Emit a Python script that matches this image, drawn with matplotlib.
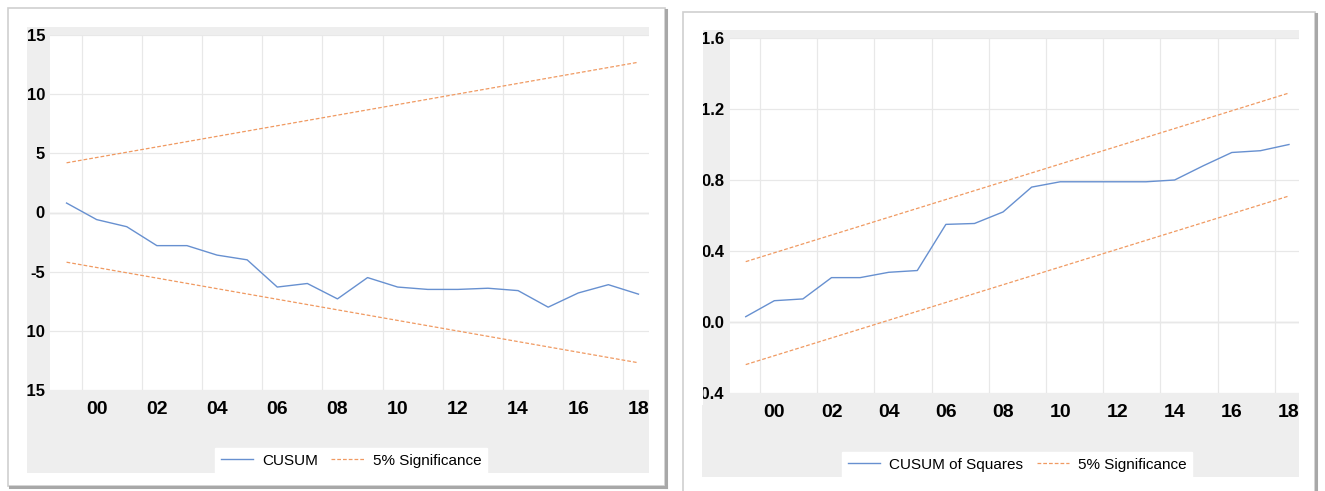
import matplotlib.pyplot as plt
from matplotlib.patches import Rectangle
from matplotlib.lines import Line2D

# Datos (observaciones anuales)
years = list(range(1999, 2019))
cusum = [0.8, -0.6, -1.2, -2.8, -2.8, -3.6, -4.0, -6.3, -6.0, -7.3,
         -5.5, -6.3, -6.5, -6.5, -6.4, -6.6, -8.0, -6.8, -6.1, -6.9]
band_years = [1999, 2018]
cusum_upper = [4.2, 12.7]
cusum_lower = [-4.2, -12.7]

cusumsq = [0.03, 0.12, 0.13, 0.25, 0.25, 0.28, 0.29, 0.55, 0.555, 0.62,
           0.76, 0.79, 0.79, 0.79, 0.79, 0.80, 0.88, 0.955, 0.965, 1.0]
sq_upper = [0.34, 1.29]
sq_lower = [-0.24, 0.71]

x_ticks = list(range(2000, 2019, 2))
x_labels = ["00", "02", "04", "06", "08", "10", "12", "14", "16", "18"]
grid_x = [y + 0.5 for y in range(1999, 2018, 2)]
cusum_yticks = [-15, -10, -5, 0, 5, 10, 15]
cusum_ylabels = ["-15", "-10", "-5", "0", "5", "10", "15"]
sq_yticks = [-0.4, 0.0, 0.4, 0.8, 1.2, 1.6]
sq_ylabels = ["-0.4", "0.0", "0.4", "0.8", "1.2", "1.6"]

BLUE = "#6790D0"
ORANGE = "#F09A62"
GRAY_BG = "#EEEEEE"
FONT = ["Liberation Sans", "DejaVu Sans"]

W, H = 1325, 491
fig = plt.figure(figsize=(W / 100, H / 100), dpi=100)


def box(x0, y0, x1, y1):
    # pixeles (origen arriba-izquierda) -> coordenadas de figura
    return [x0 / W, 1 - y1 / H, (x1 - x0) / W, (y1 - y0) / H]


def rect(x0, y0, x1, y1, **kw):
    l, b, w, h = box(x0, y0, x1, y1)
    fig.patches.append(Rectangle((l, b), w, h, transform=fig.transFigure, **kw))


def line(xs, ys, **kw):
    fig.lines.append(Line2D([x / W for x in xs], [1 - y / H for y in ys],
                            transform=fig.transFigure, **kw))


def panel(frame, gray, axpos, ylim, yticks, ylabels, ysize, ypad, series, upper, lower,
          label, leg_x, leg_y, masks):
    fx0, fy0, fx1, fy1 = frame
    # marco con sombra
    rect(fx0, fy0, fx1, fy1, facecolor="white", edgecolor="#CFCFCF", lw=1.2, zorder=-3)
    line([fx1 + 1, fx1 + 1], [fy0 + 2, fy1 + 1], color="#A8A8A8", lw=2.2, zorder=-2)
    line([fx0 + 2, fx1 + 1], [fy1 + 1, fy1 + 1], color="#A8A8A8", lw=2.2, zorder=-2)
    rect(*gray, facecolor=GRAY_BG, edgecolor="none", zorder=-1)

    ax = fig.add_axes(box(*axpos))
    ax.set_facecolor("white")
    for s in ax.spines.values():
        s.set_visible(False)
    ax.set_xlim(1998.45, 2018.35)
    ax.set_ylim(*ylim)
    ax.set_xticks(x_ticks, x_labels, fontsize=14, fontweight="bold", fontfamily=FONT)
    ax.set_yticks(yticks, ylabels, fontsize=ysize, fontweight="bold", fontfamily=FONT)
    ax.set_xticks(grid_x, minor=True)
    ax.tick_params(which="both", length=0)
    ax.tick_params(axis="x", pad=7.8)
    ax.tick_params(axis="y", pad=ypad)
    ax.grid(True, which="minor", axis="x", color="#E8E8E8", lw=0.9)
    ax.grid(True, which="major", axis="y", color="#E8E8E8", lw=0.9)
    ax.axhline(0, color="#C4C4C4", lw=0.9, zorder=1.5)

    l1, = ax.plot(years, series, color=BLUE, lw=1.0, zorder=3)
    l2, = ax.plot(band_years, upper, color=ORANGE, lw=0.9, ls=(0, (3, 1.6)), zorder=3)
    ax.plot(band_years, lower, color=ORANGE, lw=0.9, ls=(0, (3, 1.6)), zorder=3)

    fig.legend([l1, l2], [label, "5% Significance"], loc="lower center",
               bbox_to_anchor=(leg_x / W, 1 - leg_y / H), ncol=2, frameon=True,
               facecolor="white", edgecolor="white", framealpha=1, fancybox=False,
               prop={"family": FONT, "size": 11}, handlelength=2.1,
               handletextpad=0.6, columnspacing=0.9, borderpad=0.35,
               borderaxespad=0)

    # los rotulos se cortan en el borde del area gris, como en el original
    for m in masks:
        rect(*m, facecolor="white", edgecolor="none", zorder=10)
    return ax


panel((8, 8, 665, 486), (27, 27, 649, 473), (50, 35, 649, 390), (-15, 15),
      cusum_yticks, cusum_ylabels, 12, 3.6, cusum, cusum_upper, cusum_lower,
      "CUSUM", 351, 473, [(10, 20, 27, 402)])

panel((683, 12, 1315, 498), (702, 30, 1299, 477), (730, 38, 1299, 393), (-0.4, 1.6),
      sq_yticks, sq_ylabels, 12, 4.2, cusumsq, sq_upper, sq_lower,
      "CUSUM of Squares", 1017, 477, [(684.5, 20, 703.5, 405), (1299.5, 396, 1313, 440)])

fig.savefig("out.png", dpi=100, facecolor="white")
